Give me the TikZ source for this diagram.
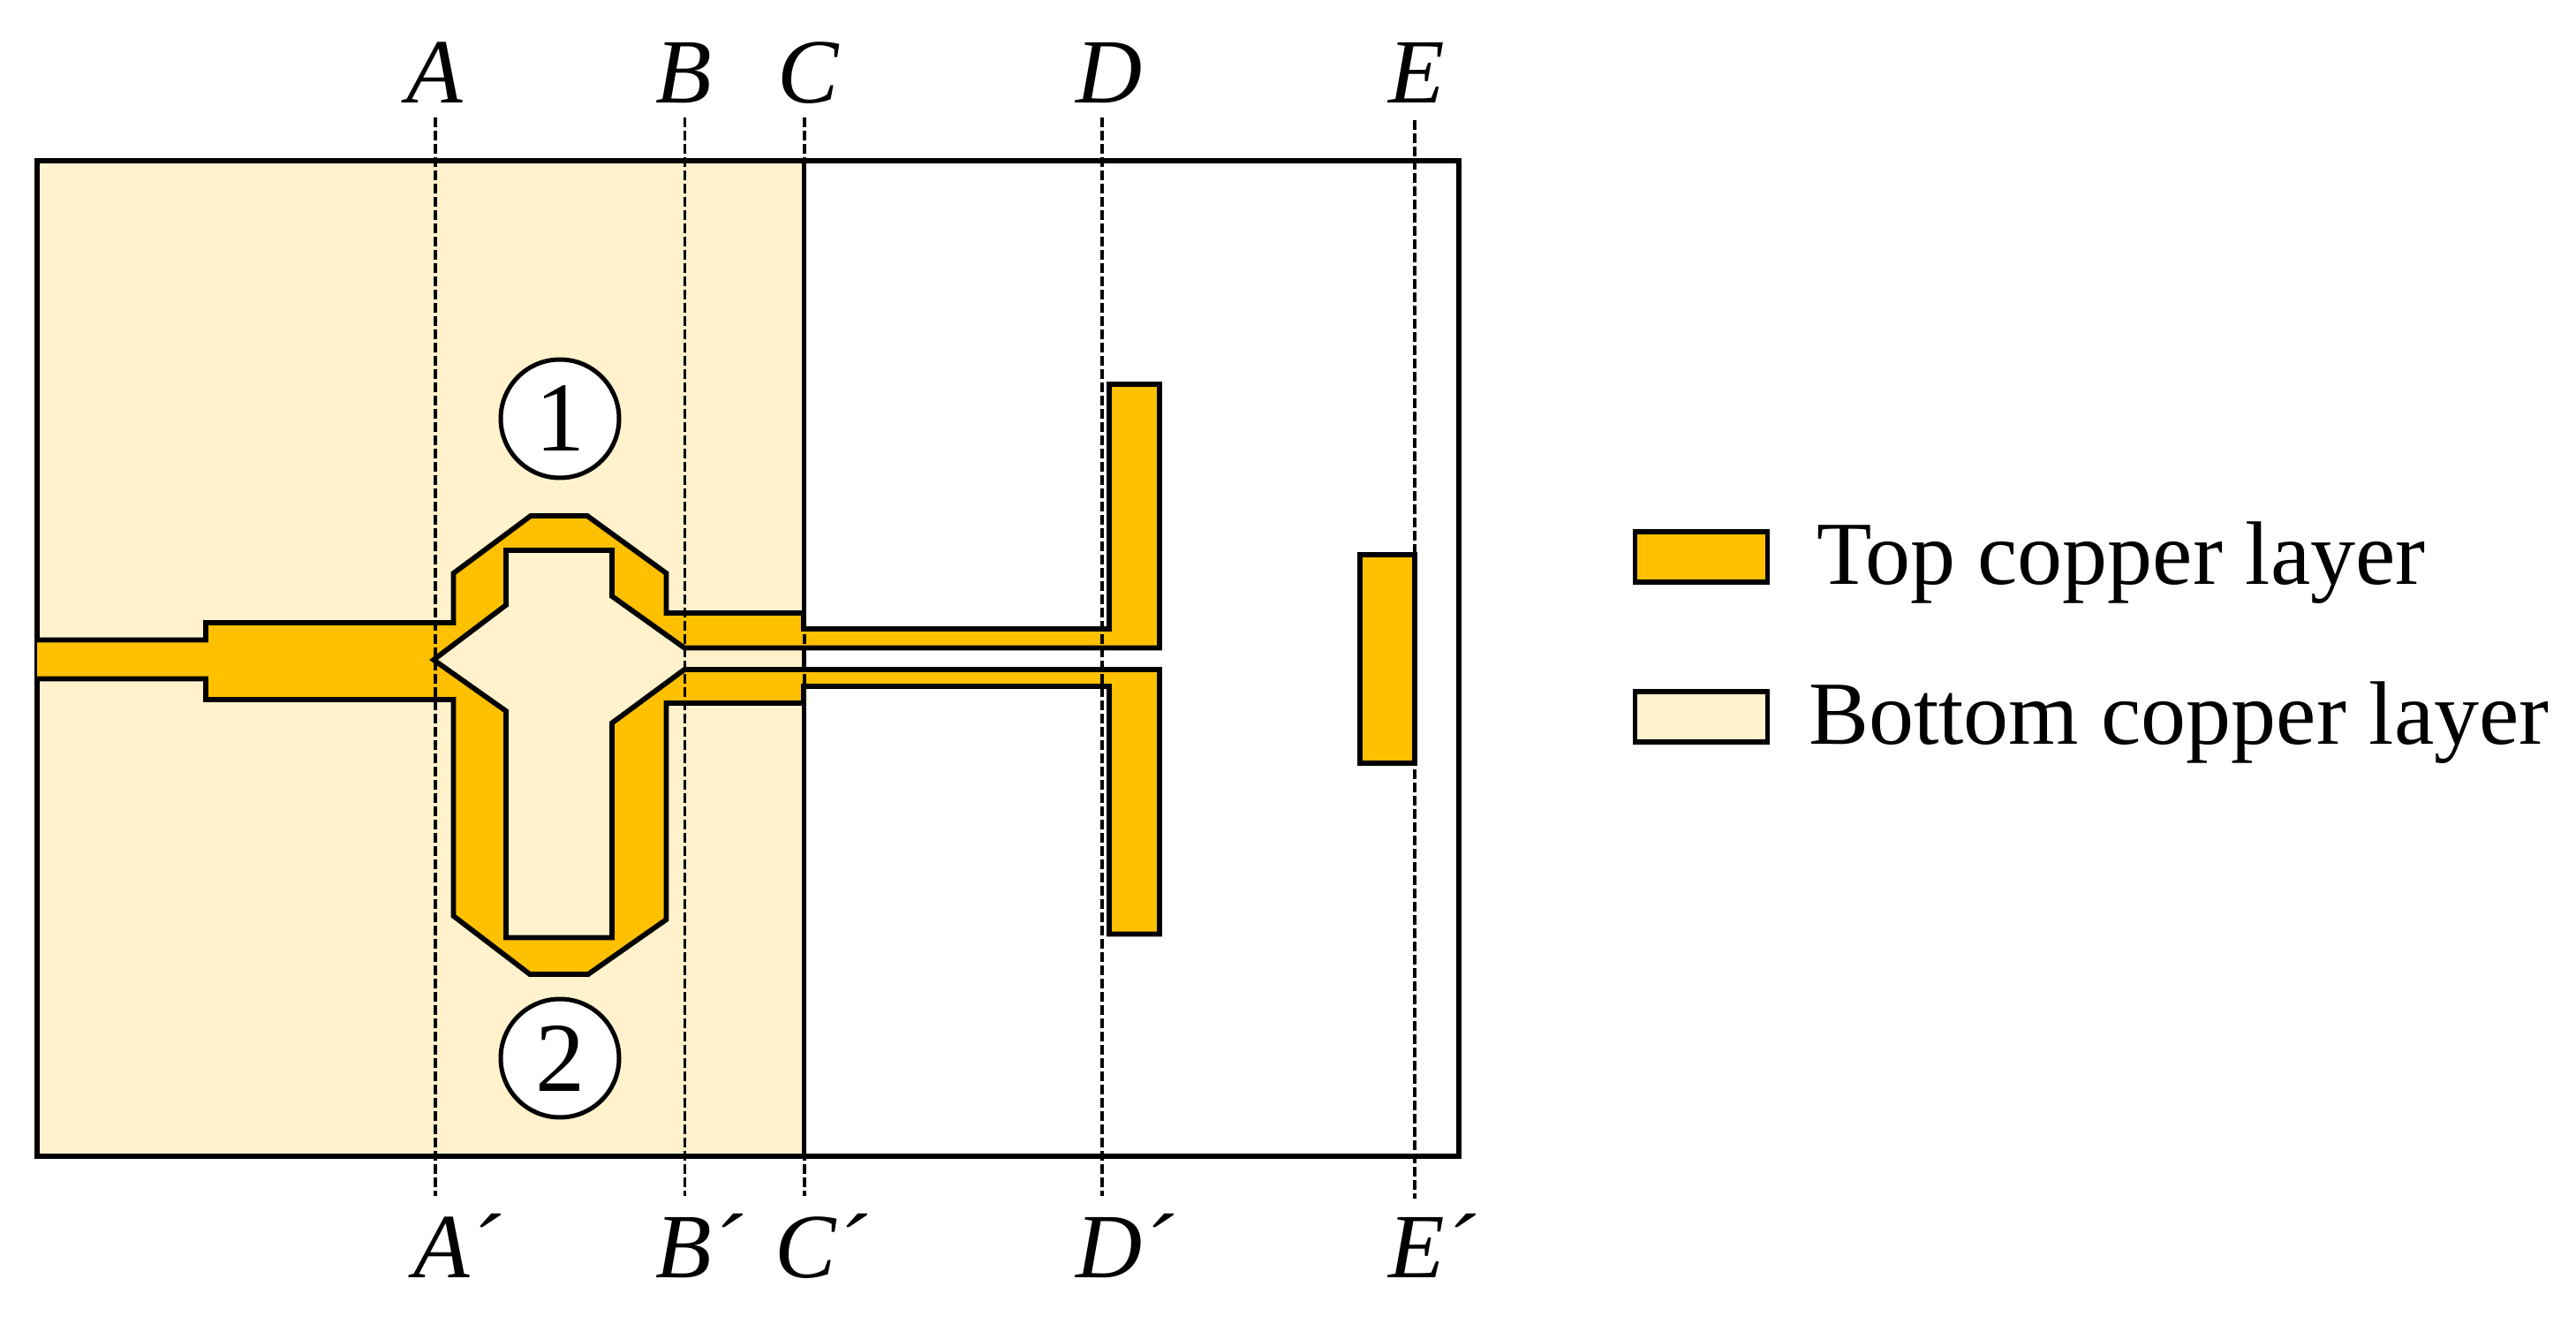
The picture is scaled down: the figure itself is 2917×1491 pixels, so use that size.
\documentclass[tikz,border=0pt]{standalone}
\usepackage{fontspec}
\setmainfont{Liberation Serif}
\definecolor{copper}{HTML}{FFC000}
\definecolor{cream}{HTML}{FFF2CC}
\tikzset{
  px/.style={x=0.5pt,y=-0.5pt},
  edge/.style={draw=black,line width=2.9pt,line join=miter},
  cut/.style={draw=black,line width=1.7pt,dash pattern=on 5.5pt off 2pt},
  lab/.style={anchor=base west,inner sep=0pt,outer sep=0pt,font=\fontsize{52pt}{60pt}\selectfont\itshape},
  legtext/.style={anchor=base west,inner sep=0pt,outer sep=0pt,font=\fontsize{51pt}{60pt}\selectfont},
  port/.style={circle,draw=black,line width=2.5pt,fill=white,minimum size=67pt,inner sep=0pt,font=\fontsize{56pt}{60pt}\selectfont},
  topcu/.style={edge,fill=copper},
  botcu/.style={edge,fill=cream},
}
\begin{document}
\begin{tikzpicture}[px]
\useasboundingbox (0,0) rectangle (2917,1491);
% board
\path[fill=cream] (42,182) rectangle (910,1309);
\draw[edge] (42,182) rectangle (1652,1309);
\draw[edge,line width=2.5pt] (910,182) -- (910,1309);
% top copper
\draw[topcu] (42,724.5) -- (233,724.5) -- (233,705) -- (513.5,705) -- (513.5,649) -- (601,584) -- (665,584)
  -- (754.5,649) -- (754.5,694) -- (910,694) -- (910,712) -- (1256,712) -- (1256,435) -- (1313,435)
  -- (1313,733.5) -- (775,733.5) -- (693,675) -- (693,623) -- (573,623) -- (573,685) -- (491,747)
  -- (573,805) -- (573,1061.5) -- (693,1061.5) -- (693,818.5) -- (775,758) -- (1313,758) -- (1313,1057.5)
  -- (1256,1057.5) -- (1256,777) -- (910,777) -- (910,796) -- (754.5,796) -- (754.5,1041) -- (666,1103)
  -- (600,1103) -- (513.5,1037) -- (513.5,792) -- (233,792) -- (233,768.5) -- (42,768.5);
\draw[topcu] (1540,628) rectangle (1602,864);
% section lines
\coordinate (at) at (493,133);  \coordinate (ab) at (493,1354);
\coordinate (bt) at (775.5,133);\coordinate (bb) at (775.5,1354);
\coordinate (ct) at (911,133);  \coordinate (cb) at (911,1354);
\coordinate (dt) at (1248,133); \coordinate (db) at (1248,1354);
\coordinate (et) at (1602,136); \coordinate (eb) at (1602,1357);
\draw[cut] (at) -- (ab);
\draw[cut] (bt) -- (bb);
\draw[cut] (ct) -- (cb);
\draw[cut] (dt) -- (db);
\draw[cut] (et) -- (eb);
% labels
\node[lab] (la) at (460,117) {A};
\node[lab] (lb) at (742,117) {B};
\node[lab] (lc) at (880,117) {C};
\node[lab] (ld) at (1218,117) {D};
\node[lab] (le) at (1572,117) {E};
\node[lab] (lap) at (468,1446) {A´};
\node[lab] (lbp) at (742,1446) {B´};
\node[lab] (lcp) at (877,1446) {C´};
\node[lab] (ldp) at (1218,1446) {D´};
\node[lab] (lep) at (1572,1446) {E´};
% ports
\node[port] (p1) at (634,474) {1};
\node[port] (p2) at (634,1198) {2};
% legend
\node[topcu,minimum width=75pt,minimum height=28.5pt,inner sep=0pt] (k1) at (1926.5,630.5) {};
\node[botcu,minimum width=75pt,minimum height=28.5pt,inner sep=0pt] (k2) at (1926.5,811.5) {};
\node[legtext] (t1) at (2057,662) {Top copper layer};
\node[legtext] (t2) at (2048,842) {Bottom copper layer};
\end{tikzpicture}
\end{document}
